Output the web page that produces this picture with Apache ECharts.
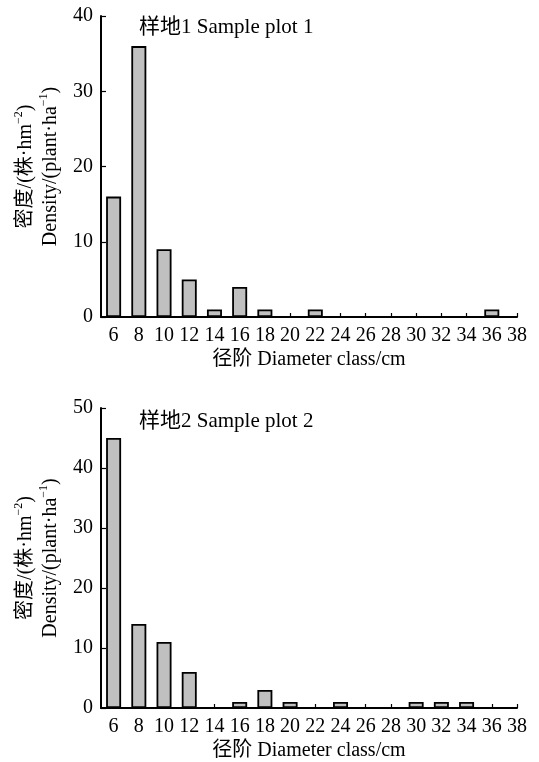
<!DOCTYPE html>
<html>
<head>
<meta charset="utf-8">
<script src="https://cdn.jsdelivr.net/npm/echarts@6/dist/echarts.min.js"></script>
<style>
html,body{margin:0;padding:0;background:#fff;}
#chart{width:539px;height:762px;}
</style>
</head>
<body>
<div id="chart"></div>
<script>
const diameterClasses = [6, 8, 10, 12, 14, 16, 18, 20, 22, 24, 26, 28, 30, 32, 34, 36, 38];
const plot1Density = [16, 36, 9, 5, 1, 4, 1, 0, 1, 0, 0, 0, 0, 0, 0, 1, 0];
const plot2Density = [45, 14, 11, 6, 0, 1, 3, 1, 0, 1, 0, 0, 1, 1, 1, 0, 0];
const plot1Title = '样地1 Sample plot 1';
const plot2Title = '样地2 Sample plot 2';
const xName = '径阶 Diameter class/cm';
const plot1YTicks = [0, 10, 20, 30, 40];
const plot2YTicks = [0, 10, 20, 30, 40, 50];

const FONT = "'Liberation Serif', 'Noto Sans CJK SC', serif";
const FS = 20;
const chart = echarts.init(document.getElementById('chart'), null, {renderer: 'canvas'});

function pairs(vals) {
  return diameterClasses.map((d, i) => [d, vals[i]]).filter(p => p[1] > 0);
}

const yNameRich = {
  a: {fontFamily: FONT, fontSize: FS, color: '#000', lineHeight: 25},
  s: {fontFamily: FONT, fontSize: 12, color: '#000', lineHeight: 12, verticalAlign: 'top'}
};
const yName = '{a|密度/(株·hm}{s|−2}{a|)}\n{a|Density/(plant·ha}{s|−1}{a|)}';

function xAxis(gi) {
  return {
    gridIndex: gi, type: 'value', min: 5, max: 38,
    name: xName, nameLocation: 'middle', nameGap: 33,
    nameTextStyle: {fontFamily: FONT, fontSize: FS, color: '#000'},
    axisLine: {show: true, lineStyle: {color: '#000', width: 2}},
    axisTick: {show: true, inside: true, length: 4, lineStyle: {color: '#000', width: 1.2}, customValues: diameterClasses},
    axisLabel: {fontFamily: FONT, fontSize: FS, color: '#000', margin: 9, customValues: diameterClasses},
    splitLine: {show: false}
  };
}
function yAxis(gi, ticks) {
  return {
    gridIndex: gi, type: 'value', min: ticks[0], max: ticks[ticks.length - 1], interval: ticks[1] - ticks[0],
    name: yName, nameLocation: 'middle', nameGap: 38, nameRotate: 90,
    nameTextStyle: {rich: yNameRich, align: 'center'},
    axisLine: {show: true, lineStyle: {color: '#000', width: 2}},
    axisTick: {show: true, inside: true, length: 5, lineStyle: {color: '#000', width: 1.2}},
    axisLabel: {fontFamily: FONT, fontSize: FS, color: '#000', margin: 8},
    splitLine: {show: false}
  };
}
const barStyle = {color: '#c0c0c0', borderColor: '#000', borderWidth: 1.8};

chart.setOption({
  animation: false,
  backgroundColor: '#fff',
  title: [
    {text: plot1Title, left: 134, top: 12, textStyle: {fontFamily: FONT, fontSize: 21, fontWeight: 'normal', color: '#000'}},
    {text: plot2Title, left: 134, top: 406, textStyle: {fontFamily: FONT, fontSize: 21, fontWeight: 'normal', color: '#000'}}
  ],
  grid: [
    {left: 101, top: 16, width: 416, height: 301},
    {left: 101, top: 408, width: 416, height: 300}
  ],
  xAxis: [xAxis(0), xAxis(1)],
  yAxis: [yAxis(0, plot1YTicks), yAxis(1, plot2YTicks)],
  series: [
    {type: 'bar', xAxisIndex: 0, yAxisIndex: 0, barWidth: 15, data: pairs(plot1Density), itemStyle: barStyle},
    {type: 'bar', xAxisIndex: 1, yAxisIndex: 1, barWidth: 15, data: pairs(plot2Density), itemStyle: barStyle}
  ]
});
</script>
</body>
</html>
